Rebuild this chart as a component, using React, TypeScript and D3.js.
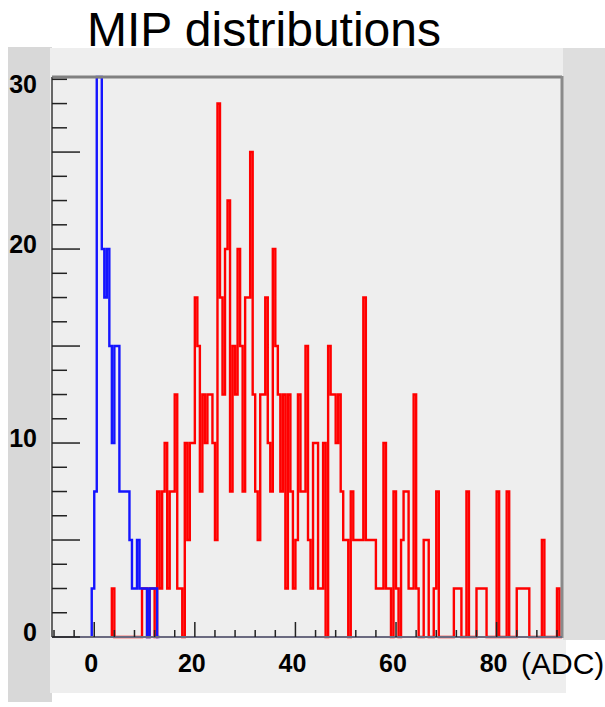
import React from 'react';
import * as d3 from 'd3';

// histogram contents, bins of 0.5 ADC
const binWidth = 0.5;
const blueStart = -0.5;
const blueCounts = [
  2.5, 7.5, 30, 30, 20, 17.5, 20, 15, 10, 15, 15, 7.5, 7.5, 7.5, 7.5, 5, 2.5, 2.5, 5,
  2.5, 2.5, 2.5, 0, 2.5, 2.5, 2.5, 0,
];
const redStart = 3.5;
const redCounts = [
  2.5, 0, 0, 0, 0, 0, 0, 0, 0, 0, 0, 0,
  2.5, 2.5, 0, 2.5, 2.5, 0, 7.5, 2.5, 7.5, 10, 2.5, 7.5, 7.5, 12.5, 2.5, 2.5, 0,
  10, 5, 10, 10, 17.5, 15, 7.5, 12.5, 10, 12.5, 12.5, 10, 5,
  27.5, 17.5, 12.5, 20, 22.5, 7.5, 15, 12.5, 20, 15, 7.5, 17.5, 17.5, 25,
  12.5, 7.5, 5, 12.5, 12.5, 17.5, 10, 7.5, 20, 15, 12.5, 7.5, 12.5, 2.5,
  12.5, 7.5, 2.5, 5, 12.5, 7.5, 7.5, 15, 5, 2.5, 10, 10, 2.5, 2.5, 10, 0,
  15, 12.5, 12.5, 10, 12.5, 7.5, 5, 5, 0, 7.5, 5, 5, 5, 5, 17.5, 5, 5, 5, 5,
  2.5, 2.5, 2.5, 10, 2.5, 2.5, 0, 7.5, 2.5, 0, 5, 7.5, 7.5, 2.5, 2.5, 12.5, 2.5,
  0, 0, 5, 5, 0, 0, 2.5, 7.5, 0, 0, 0, 0, 0, 0, 2.5, 2.5, 2.5, 0, 0, 7.5, 0, 0, 0,
  2.5, 2.5, 2.5, 2.5, 0, 0, 0, 0, 7.5, 0, 0, 0, 7.5, 0, 0, 0,
  2.5, 2.5, 2.5, 2.5, 2.5, 0, 0, 0, 0, 0, 5, 0, 0, 0, 0, 0, 2.5, 0,
];

const xTickLabels = [0, 20, 40, 60, 80];
const yTickLabels = [0, 10, 20, 30];

const W = 605;
const H = 707;
const left = 52;
const right = 562;
const top = 77;
const bottom = 637;

const font = '"Liberation Sans", Arial, Helvetica, sans-serif';

const App = () => {
  const x = d3.scaleLinear().domain([-8.4, 93]).range([left, right]);
  const y = d3.scaleLinear().domain([0, 28.87]).range([bottom, top]).clamp(true);

  // step outline like ROOT draws it
  const histPath = (start: number, counts: number[]) => {
    const pts: [number, number][] = [[start, 0]];
    counts.forEach((c, i) => pts.push([start + i * binWidth, c]));
    pts.push([start + counts.length * binWidth, 0]);
    return d3
      .line<[number, number]>()
      .x((d) => x(d[0]))
      .y((d) => y(d[1]))
      .curve(d3.curveStepAfter)(pts);
  };

  const yMinor = d3.range(0, 28.87, 1.25);
  const xMinor = d3.range(-8, 93, 4);

  return (
    <svg width={W} height={H} style={{ position: 'absolute', left: 0, top: 0 }}>
      <rect x={0} y={0} width={W} height={H} fill="#ffffff" />
      {/* canvas */}
      <rect x={8} y={47} width={44} height={655} fill="#d8d8d8" />
      <rect x={50} y={48} width={516} height={645} fill="#eeeeee" />
      <rect x={563} y={48} width={W - 563} height={592} fill="#dedede" />

      <text x={264} y={46} textAnchor="middle" fontFamily={font} fontSize={48} fill="#000">
        MIP distributions
      </text>

      {/* histograms */}
      <path d={histPath(redStart, redCounts) || ''} fill="none" stroke="#ff0000" strokeWidth={2.4} />
      <path d={histPath(blueStart, blueCounts) || ''} fill="none" stroke="#1414ff" strokeWidth={2.4} />

      {/* frame */}
      <line x1={left} x2={right} y1={top} y2={top} stroke="#808080" strokeWidth={3} />
      <line x1={right} x2={right} y1={top - 1} y2={bottom + 1} stroke="#8a8a8a" strokeWidth={3} />
      <line x1={left} x2={left} y1={top} y2={bottom} stroke="#666" strokeWidth={2} />
      <line x1={left} x2={right} y1={bottom} y2={bottom} stroke="#6a6a80" strokeWidth={2} />

      {/* y ticks */}
      {yMinor.map((v) => (
        <line
          key={`yt${v}`}
          x1={left}
          x2={left + (v % 5 === 0 ? 28 : 15)}
          y1={y(v)}
          y2={y(v)}
          stroke="#222"
          strokeWidth={1.5}
        />
      ))}
      {yTickLabels.map((v) => (
        <text
          key={`yl${v}`}
          x={37}
          y={Math.max(y(v) - 5, top + 7)}
          textAnchor="end"
          dominantBaseline="central"
          fontFamily={font}
          fontWeight="bold"
          fontSize={25}
          fill="#000"
        >
          {v}
        </text>
      ))}

      {/* x ticks */}
      {xMinor.map((v) => (
        <line
          key={`xt${v}`}
          x1={x(v)}
          x2={x(v)}
          y1={bottom}
          y2={bottom - (v % 20 === 0 ? 15 : 7)}
          stroke="#222"
          strokeWidth={1.5}
        />
      ))}
      {xTickLabels.map((v) => (
        <text
          key={`xl${v}`}
          x={x(v) - 3}
          y={663}
          textAnchor="middle"
          dominantBaseline="central"
          fontFamily={font}
          fontWeight="bold"
          fontSize={25}
          fill="#000"
        >
          {v}
        </text>
      ))}
      <text x={521} y={674} fontFamily={font} fontSize={30} fill="#000">
        (ADC)
      </text>
    </svg>
  );
};

export default App;
